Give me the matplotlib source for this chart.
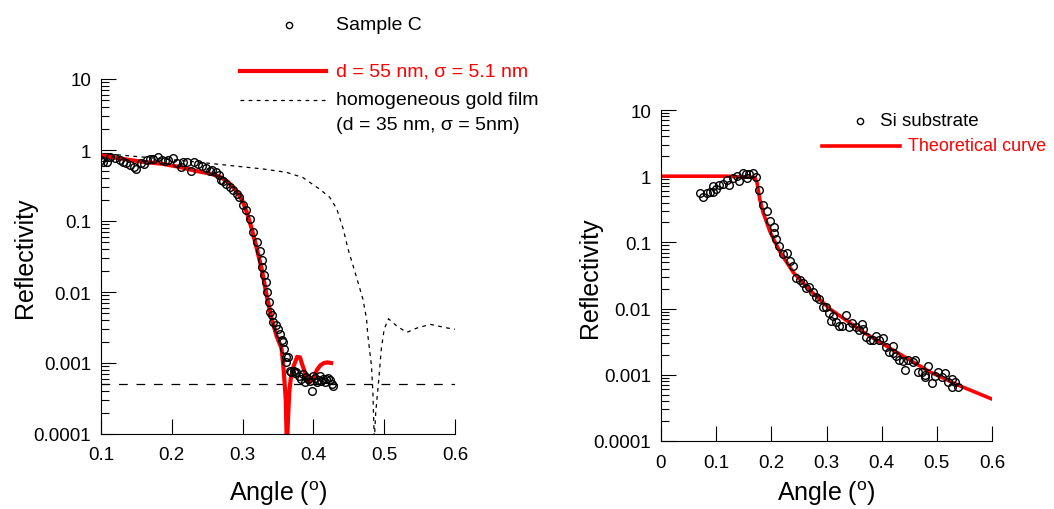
import numpy as np
import matplotlib
matplotlib.use('Agg')
import matplotlib.pyplot as plt
from matplotlib.ticker import FixedLocator, LogLocator, NullFormatter, FuncFormatter
from matplotlib.lines import Line2D

plt.rcParams['font.family'] = ['Liberation Sans', 'DejaVu Sans']
plt.rcParams['mathtext.fontset'] = 'custom'
plt.rcParams['mathtext.rm'] = 'Liberation Sans'

# ---- left panel: sample C ----
angle_c = [0.100, 0.103, 0.108, 0.113, 0.120, 0.127, 0.131, 0.136, 0.141, 0.146,
           0.150, 0.157, 0.161, 0.165, 0.169, 0.174, 0.180, 0.186, 0.190, 0.195,
           0.202, 0.207, 0.213, 0.216, 0.221, 0.227, 0.232, 0.237, 0.242, 0.249,
           0.254, 0.257, 0.262, 0.266, 0.270, 0.273, 0.277, 0.282, 0.287, 0.292,
           0.295, 0.300, 0.305, 0.310, 0.314, 0.320, 0.325, 0.327, 0.328, 0.330,
           0.333, 0.335, 0.337, 0.339, 0.341, 0.343, 0.347, 0.350, 0.353, 0.355,
           0.357, 0.358, 0.361, 0.362, 0.364, 0.367, 0.369, 0.372, 0.374, 0.376,
           0.379, 0.383, 0.386, 0.388, 0.390, 0.393, 0.395, 0.398, 0.400, 0.402,
           0.405, 0.407, 0.409, 0.411, 0.414, 0.416, 0.418, 0.421, 0.423, 0.426,
           0.428]
refl_c = [0.73, 0.67, 0.68, 0.79, 0.77, 0.73, 0.68, 0.66, 0.61, 0.57,
          0.54, 0.66, 0.64, 0.73, 0.75, 0.75, 0.79, 0.73, 0.71, 0.72,
          0.77, 0.66, 0.57, 0.68, 0.68, 0.51, 0.68, 0.63, 0.60, 0.55,
          0.51, 0.52, 0.49, 0.44, 0.38, 0.37, 0.33, 0.30, 0.27, 0.24,
          0.22, 0.17, 0.145, 0.107, 0.071, 0.051, 0.038, 0.0285, 0.0223, 0.0174,
          0.014, 0.0099, 0.0073, 0.0052, 0.0047, 0.0038, 0.0034, 0.0030, 0.0026, 0.0021,
          0.0020, 0.00158, 0.0012, 0.00102, 0.0012, 0.00077, 0.00074, 0.00077, 0.00072, 0.00075,
          0.00066, 0.00060, 0.0007, 0.00054, 0.00063, 0.0006, 0.00056, 0.0004, 0.00066, 0.00062,
          0.00054, 0.00058, 0.00066, 0.00056, 0.0006, 0.00054, 0.0006, 0.00062, 0.00058, 0.0005,
          0.00047]

fit_x = [0.100, 0.120, 0.138, 0.160, 0.186, 0.210, 0.233, 0.256, 0.270, 0.280,
         0.292, 0.300, 0.306, 0.313, 0.320, 0.327, 0.334, 0.341, 0.348, 0.355,
         0.358, 0.361, 0.3625, 0.364, 0.366, 0.368, 0.372, 0.377, 0.381, 0.385,
         0.390, 0.395, 0.400, 0.405, 0.410, 0.415, 0.420, 0.425]
fit_y = [0.84, 0.78, 0.73, 0.68, 0.64, 0.58, 0.51, 0.46, 0.41, 0.35,
         0.26, 0.19, 0.132, 0.077, 0.041, 0.021, 0.0089, 0.0042, 0.0024, 0.0016,
         0.0008, 0.0003, 0.00006, 0.00015, 0.0004, 0.0006, 0.0009, 0.00122, 0.0012, 0.0009,
         0.00065, 0.00054, 0.0006, 0.0008, 0.00093, 0.001, 0.00102, 0.001]

gold_x = [0.100, 0.127, 0.240, 0.329, 0.362, 0.385, 0.409, 0.423, 0.433, 0.442,
          0.449, 0.456, 0.463, 0.470, 0.475, 0.477, 0.482, 0.484, 0.486, 0.488,
          0.492, 0.496, 0.500, 0.506, 0.518, 0.532, 0.546, 0.565, 0.590, 0.600]
gold_y = [0.88, 0.85, 0.67, 0.54, 0.485, 0.41, 0.28, 0.216, 0.148, 0.078,
          0.040, 0.0235, 0.0137, 0.0079, 0.0042, 0.0024, 0.00092, 0.00039, 0.00008, 0.0002,
          0.00054, 0.0016, 0.0030, 0.0042, 0.0033, 0.0027, 0.0031, 0.0035, 0.0031, 0.0030]

background = 0.0005

# ---- right panel: Si substrate ----
si_x = [0.071, 0.077, 0.083, 0.089, 0.095, 0.095, 0.100, 0.106, 0.113, 0.119,
        0.124, 0.130, 0.137, 0.142, 0.148, 0.154, 0.155, 0.160, 0.167, 0.173,
        0.178, 0.185, 0.192, 0.198, 0.204, 0.204, 0.208, 0.214, 0.221, 0.228,
        0.234, 0.240, 0.245, 0.252, 0.257, 0.263, 0.269, 0.275, 0.281, 0.287,
        0.293, 0.299, 0.305, 0.309, 0.311, 0.317, 0.323, 0.329, 0.335, 0.341,
        0.347, 0.353, 0.359, 0.365, 0.366, 0.371, 0.378, 0.384, 0.390, 0.396,
        0.402, 0.408, 0.414, 0.420, 0.420, 0.426, 0.432, 0.438, 0.442, 0.448,
        0.456, 0.460, 0.466, 0.473, 0.478, 0.478, 0.484, 0.491, 0.497, 0.503,
        0.509, 0.515, 0.521, 0.527, 0.527, 0.533, 0.539]
si_y = [0.55, 0.48, 0.56, 0.57, 0.57, 0.72, 0.64, 0.74, 0.77, 0.89,
        0.74, 0.94, 1.0, 0.85, 1.1, 1.08, 0.94, 1.08, 1.1, 0.96,
        0.62, 0.37, 0.30, 0.21, 0.17, 0.138, 0.112, 0.089, 0.067, 0.069,
        0.052, 0.0435, 0.029, 0.027, 0.024, 0.0204, 0.021, 0.0176, 0.0148, 0.0139,
        0.0104, 0.0104, 0.0086, 0.0066, 0.0077, 0.0063, 0.0054, 0.0055, 0.0081, 0.0053,
        0.006, 0.0053, 0.0048, 0.0058, 0.005, 0.0037, 0.0034, 0.0034, 0.0039, 0.0034,
        0.0036, 0.0026, 0.0022, 0.0027, 0.0021, 0.0019, 0.0017, 0.0016, 0.0012, 0.0017,
        0.00155, 0.0017, 0.0011, 0.0011, 0.0010, 0.00092, 0.00137, 0.00075, 0.00097, 0.0011,
        0.00094, 0.00105, 0.00077, 0.00087, 0.00066, 0.00077, 0.00066]

th_x = [0.0, 0.120, 0.150, 0.170, 0.174, 0.179, 0.185, 0.198, 0.216, 0.240,
        0.276, 0.306, 0.367, 0.427, 0.488, 0.542, 0.600]
th_y = [1.0, 1.0, 0.97, 0.96, 0.8, 0.45, 0.285, 0.142, 0.071, 0.035,
        0.0170, 0.0099, 0.0044, 0.0022, 0.0011, 0.00068, 0.00043]

W, H = 1054, 510
fig = plt.figure(figsize=(W / 100, H / 100), dpi=100)


def fx(px):
    return px / W


def fy(py):
    return 1 - py / H


def style_axes(ax, xticks):
    ax.set_yscale('log')
    ax.set_ylim(1e-4, 10)
    ax.set_xlim(xticks[0], xticks[-1])
    ax.xaxis.set_major_locator(FixedLocator(xticks))
    ax.xaxis.set_major_formatter(FuncFormatter(lambda v, _: f"{v:g}"))
    ax.yaxis.set_major_locator(LogLocator(base=10, numticks=10))
    ax.yaxis.set_minor_locator(LogLocator(base=10, subs=np.arange(2, 10), numticks=20))
    ax.yaxis.set_minor_formatter(NullFormatter())
    ax.yaxis.set_major_formatter(FuncFormatter(lambda v, _: f"{v:g}"))
    for s in ['top', 'right']:
        ax.spines[s].set_visible(False)
    for s in ['left', 'bottom']:
        ax.spines[s].set_linewidth(0.8)
    ax.tick_params(which='major', direction='in', length=11, width=0.8,
                   labelsize=13.5, pad=7)
    ax.tick_params(axis='x', which='major', pad=9)
    ax.tick_params(which='minor', direction='in', length=6, width=0.8)
    ax.set_xlabel('Angle ($^{\\rm o}$)', fontsize=18, va='center')
    ax.set_ylabel('Reflectivity', fontsize=18, va='center')


# left axes
ax1 = fig.add_axes([fx(101), fy(435), (455 - 101) / W, (435 - 80) / H])
ax1.plot(gold_x, gold_y, color='black', lw=0.9, dashes=(3, 3.5))
ax1.plot([0.1, 0.6], [background, background], color='black', lw=0.9, dashes=(7, 7))
ax1.plot(fit_x, fit_y, color='red', lw=3)
ax1.plot(angle_c, refl_c, 'o', mfc='none', mec='black', ms=5.5, mew=1)
style_axes(ax1, [0.1, 0.2, 0.3, 0.4, 0.5, 0.6])
ax1.yaxis.set_label_coords((25 - 101) / 354, 0.5)
ax1.xaxis.set_label_coords(0.5, (435 - 494) / 355)

# right axes
ax2 = fig.add_axes([fx(661), fy(442), (992 - 661) / W, (442 - 111) / H])
ax2.plot(th_x, th_y, color='red', lw=2.6)
ax2.plot(si_x, si_y, 'o', mfc='none', mec='black', ms=5.5, mew=1)
style_axes(ax2, [0, 0.1, 0.2, 0.3, 0.4, 0.5, 0.6])
ax2.yaxis.set_label_coords((590 - 661) / 331, 0.495)
ax2.xaxis.set_label_coords(0.5, (442 - 494) / 331)

# legends drawn in figure pixels
fig.add_artist(Line2D([fx(289)], [fy(26)], marker='o', mfc='none', mec='black',
                      ms=4.5, mew=1, ls='none'))
fig.text(fx(336), fy(26), 'Sample C', fontsize=14, va='center')
fig.add_artist(Line2D([fx(240), fx(326)], [fy(72), fy(72)], color='red', lw=3))
fig.text(fx(336), fy(72), 'd = 55 nm, σ = 5.1 nm', fontsize=14, va='center', color='red')
fig.add_artist(Line2D([fx(240), fx(326)], [fy(101), fy(101)], color='black', lw=0.9,
                      dashes=(3, 3.5)))
fig.text(fx(336), fy(101), 'homogeneous gold film', fontsize=14, va='center')
fig.text(fx(336), fy(125), '(d = 35 nm, σ = 5nm)', fontsize=14, va='center')

fig.add_artist(Line2D([fx(860)], [fy(122)], marker='o', mfc='none', mec='black',
                      ms=4.5, mew=1, ls='none'))
fig.text(fx(880), fy(122), 'Si substrate', fontsize=13.5, va='center')
fig.add_artist(Line2D([fx(822), fx(900)], [fy(147), fy(147)], color='red', lw=2.6))
fig.text(fx(908), fy(147), 'Theoretical curve', fontsize=13, va='center', color='red')

fig.savefig('out.png', dpi=100)
